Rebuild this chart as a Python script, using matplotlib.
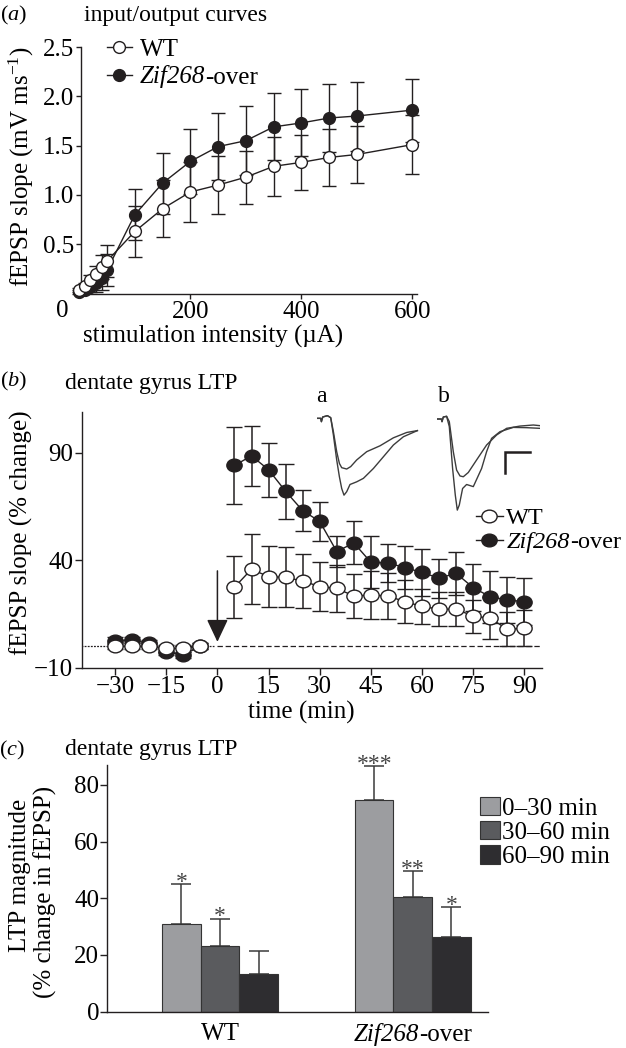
import numpy as np
import matplotlib
matplotlib.use('Agg')
import matplotlib.pyplot as plt
from matplotlib.lines import Line2D
from matplotlib.path import Path
from matplotlib.transforms import Affine2D
from matplotlib.offsetbox import TextArea, HPacker, AnnotationBbox

plt.rcParams['font.family'] = 'Liberation Serif'
plt.rcParams['mathtext.fontset'] = 'custom'
plt.rcParams['mathtext.rm'] = 'Liberation Serif'
plt.rcParams['mathtext.it'] = 'Liberation Serif:italic'
plt.rcParams['axes.unicode_minus'] = True

INK = '#231f20'
GENE = 'Zif268'
SUFFIX = '-over'

# ---- (a) input/output curves ----
io_x = [0, 10, 20, 30, 40, 50, 100, 150, 200, 250, 300, 350, 400, 450, 500, 600]
io_wt = [0.04, 0.08, 0.14, 0.20, 0.27, 0.33, 0.63, 0.86, 1.03, 1.10, 1.18, 1.29, 1.33, 1.38, 1.41, 1.51]
io_wt_err = [0.02, 0.03, 0.05, 0.08, 0.12, 0.16, 0.26, 0.29, 0.30, 0.29, 0.27, 0.30, 0.28, 0.29, 0.29, 0.30]
io_zif = [0.02, 0.04, 0.07, 0.11, 0.16, 0.24, 0.80, 1.12, 1.34, 1.49, 1.55, 1.69, 1.73, 1.78, 1.80, 1.86]
io_zif_err = [0.02, 0.03, 0.05, 0.09, 0.12, 0.16, 0.26, 0.31, 0.33, 0.34, 0.35, 0.34, 0.34, 0.34, 0.35, 0.32]

# ---- (b) LTP time course ----
t_base = [-30, -25, -20, -15, -10, -5]
t_post = [5, 10, 15, 20, 25, 30, 35, 40, 45, 50, 55, 60, 65, 70, 75, 80, 85, 90]
wt_base = [0, 0, 0, -1, -1, 0]
wt_base_err = [1.5, 1.5, 1.5, 1.5, 1.5, 1.5]
zif_base = [2.6, 2.9, 1.3, -2.6, -4.1, 0]
zif_base_err = [1.5, 1.5, 1.5, 1.5, 1.5, 1.5]
wt_post = [27.4, 35.8, 32.3, 32.0, 30.3, 27.7, 26.9, 23.3, 23.8, 23.3, 20.7, 18.5, 17.2, 17.2, 14.0, 13.0, 7.9, 8.3]
wt_post_err = [14.5, 16.3, 14.3, 14, 12.6, 11.3, 11, 10.3, 11, 10.5, 10, 8, 8, 8, 7.7, 9.8, 8, 8.3]
zif_post = [84, 88.5, 82, 72, 63, 58, 44, 48, 39, 38.7, 36.5, 34.3, 31.6, 33.9, 27.2, 23, 21.5, 20.7]
zif_post_err = [18, 14, 12.5, 12.7, 9.5, 9, 7.3, 10, 12, 9, 10, 11, 9, 10, 11, 12, 10.5, 11]

# example fEPSP sweeps (ms, mV), before (1) and after (2) LTP
trace_a1_t = [0, 0.4, 0.47, 0.6, 1.07, 1.4, 1.67, 2.0, 2.27, 2.5, 3.0, 3.4, 4.0, 5.0, 6.33, 7.67, 9.0, 10.07]
trace_a1_v = [0, 0, -0.125, 0.05, 0.1, 0.025, -0.5, -1.25, -1.69, -1.85, -1.9, -1.81, -1.56, -1.25, -1.03, -0.73, -0.53, -0.46]
trace_a2_t = [0, 0.4, 0.47, 0.6, 1.07, 1.4, 1.67, 2.0, 2.27, 2.5, 2.73, 3.0, 3.33, 4.0, 4.67, 5.67, 6.67, 7.67, 8.67, 10.07]
trace_a2_v = [0, 0, -0.125, 0.05, 0.1, 0.025, -0.625, -1.56, -2.19, -2.63, -2.88, -2.75, -2.48, -2.38, -2.25, -1.88, -1.44, -1.0, -0.69, -0.46]
trace_b1_t = [0, 0.4, 0.47, 0.6, 0.93, 1.2, 1.6, 1.93, 2.27, 2.6, 3.1, 3.93, 4.93, 5.93, 6.93, 8.27, 9.6, 10.27]
trace_b1_v = [-0.025, -0.025, -0.125, 0.05, 0.075, -0.125, -1.25, -1.94, -2.16, -2.19, -2.03, -1.56, -1.0, -0.625, -0.375, -0.29, -0.25, -0.275]
trace_b2_t = [0, 0.4, 0.47, 0.6, 0.93, 1.2, 1.53, 1.8, 2.0, 2.2, 2.53, 2.93, 3.6, 4.43, 4.93, 5.43, 6.27, 7.6, 8.93, 10.27]
trace_b2_v = [-0.025, -0.025, -0.125, 0.05, 0.075, -0.31, -1.88, -2.88, -3.44, -3.25, -2.63, -2.48, -2.56, -1.88, -1.25, -0.75, -0.5, -0.34, -0.35, -0.375]

# ---- (c) LTP magnitude ----
periods = ['0\u201330 min', '30\u201360 min', '60\u201390 min']
genotypes = ['WT', GENE + SUFFIX]
wt_ltp = [31, 23, 13.3]
wt_ltp_err = [14, 9.8, 8.2]
zif_ltp = [74.7, 40.4, 26.5]
zif_ltp_err = [12, 9.3, 10.3]
wt_stars = ['*', '*', '']
zif_stars = ['***', '**', '*']
bar_colors = ['#9c9da0', '#5a5b5e', '#2e2d30']

W, H = 626, 1048
def fx(px):
    return px / W
def fy(py):
    return 1 - py / H
def box(x0, y0, x1, y1):
    return [fx(x0), fy(y1), fx(x1) - fx(x0), fy(y0) - fy(y1)]

fig = plt.figure(figsize=(6.26, 10.48), dpi=100)

TICK = 18

def style(ax):
    for s in ['top', 'right']:
        ax.spines[s].set_visible(False)
    for s in ['left', 'bottom']:
        ax.spines[s].set_color(INK)
        ax.spines[s].set_linewidth(1)
    ax.tick_params(direction='out', length=3.5, width=1, color=INK,
                   labelsize=TICK, pad=1.5)

# ================= (a) =================
ax1 = fig.add_axes(box(81, 47, 416.7, 293.5))
style(ax1)
ax1.errorbar(io_x, io_zif, yerr=io_zif_err, fmt='-o', color=INK, ms=8.5, mfc=INK, mec=INK,
             lw=1, elinewidth=1, capsize=4.7, capthick=1, clip_on=False, zorder=2)
ax1.errorbar(io_x, io_wt, yerr=io_wt_err, fmt='-o', color=INK, ms=8.5, mfc='white', mec=INK,
             mew=1, lw=1, elinewidth=1, capsize=4.7, capthick=1, clip_on=False, zorder=3)
ax1.set_xlim(2.9, 607.7)
ax1.set_ylim(0, 2.5)
ax1.set_xticks([200, 400, 600])
ax1.set_yticks([0.5, 1.0, 1.5, 2.0, 2.5])
ax1.set_yticklabels(['0.5', '1.0', '1.5', '2.0', '2.5'])
ax1.tick_params(axis='x', pad=2)
ax1.text(fx(62), fy(300), '0', transform=fig.transFigure, ha='center', va='top', fontsize=TICK)
h_wt = Line2D([], [], color=INK, lw=1, marker='o', ms=8.5, mfc='white', mec=INK)
h_zif = Line2D([], [], color=INK, lw=1, marker='o', ms=8.5, mfc=INK, mec=INK)
leg1 = ax1.legend([h_wt, h_zif], ['WT', GENE], loc='upper left',
                  bbox_to_anchor=((107 - 81) / 335.7, (293.5 - 38) / 246.5), frameon=False,
                  fontsize=TICK, handlelength=1.0, handletextpad=0.3, borderpad=0,
                  borderaxespad=0, labelspacing=0.2)
leg1.get_texts()[1].set_fontstyle('italic')

fig.text(fx(14), fy(15), '($\\mathit{a}$)', fontsize=16, ha='center', va='center')
fig.text(fx(176), fy(15), 'input/output curves', fontsize=17, ha='center', va='center')
fig.text(fx(21.7), fy(166.5), 'fEPSP slope (mV ms$^{-1}$)', fontsize=TICK, rotation=90,
         ha='center', va='center')
fig.text(fx(213), fy(336), 'stimulation intensity (\u00b5A)', fontsize=TICK,
         ha='center', va='center')

# ================= (b) =================
ax2 = fig.add_axes(box(81.7, 411.7, 541.7, 667.7))
style(ax2)
ell = Path.unit_circle().transformed(Affine2D().scale(1.2, 1.0))
kw = dict(fmt='-', marker=ell, color=INK, ms=11, mec=INK, mew=1, lw=1,
          elinewidth=1.1, capsize=5.5, capthick=1.1)
ax2.hlines(0, -40, -1, colors=INK, lw=0.9, linestyles=(0, (1.5, 1)), zorder=1)
ax2.hlines(0, 0, 95, colors=INK, lw=0.9, linestyles=(0, (4.3, 2.2)), zorder=1)
ax2.errorbar(t_base, zif_base, yerr=zif_base_err, mfc=INK, zorder=2, **kw)
ax2.errorbar(t_post, zif_post, yerr=zif_post_err, mfc=INK, zorder=2, **kw)
ax2.errorbar(t_base, wt_base, yerr=wt_base_err, mfc='white', zorder=3, **kw)
ax2.errorbar(t_post, wt_post, yerr=wt_post_err, mfc='white', zorder=3, **kw)
ax2.annotate('', xy=(0, 2), xytext=(0, 35),
             arrowprops=dict(arrowstyle='-|>,head_width=0.33,head_length=0.7',
                             mutation_scale=20, lw=1.1, color=INK, fc=INK,
                             shrinkA=0, shrinkB=0))
ax2.set_xlim(-39.8, 95.1)
ax2.set_ylim(-10, 109)
ax2.set_xticks([-30, -15, 0, 15, 30, 45, 60, 75, 90])
ax2.set_yticks([-10, 40, 90])
ax2.tick_params(length=5, pad=1)
hb_wt = Line2D([], [], color=INK, lw=1, marker=ell, ms=11, mfc='white', mec=INK)
hb_zif = Line2D([], [], color=INK, lw=1, marker=ell, ms=11, mfc=INK, mec=INK)
leg2 = ax2.legend([hb_wt, hb_zif], ['WT', GENE], loc='upper left',
                  bbox_to_anchor=((476 - 81.7) / 460, (667.7 - 507) / 256), frameon=False,
                  fontsize=17.5, handlelength=1.1, handletextpad=0.15, borderpad=0,
                  borderaxespad=0, labelspacing=0.1)
leg2.get_texts()[1].set_fontstyle('italic')

fig.text(fx(14), fy(381), '($\\mathit{b}$)', fontsize=16, ha='center', va='center')
fig.text(fx(151.5), fy(383), 'dentate gyrus LTP', fontsize=17, ha='center', va='center')
fig.text(fx(21.7), fy(533), 'fEPSP slope (% change)', fontsize=TICK, rotation=90,
         ha='center', va='center')
fig.text(fx(301), fy(712), 'time (min)', fontsize=TICK, ha='center', va='center')

# example traces
for (x0, x1), tr in [((316.7, 419.4), [(trace_a1_t, trace_a1_v), (trace_a2_t, trace_a2_v)]),
                     ((437.3, 540.0), [(trace_b1_t, trace_b1_v), (trace_b2_t, trace_b2_v)])]:
    axi = fig.add_axes(box(x0, 415, x1, 511.7))
    axi.set_axis_off()
    for t, v in tr:
        axi.plot(t, v, color='#3c3c3c', lw=1)
    axi.set_xlim(0, 10.27)
    axi.set_ylim(-3.5, 0.125)
    last = axi
last.plot([6.77, 6.77, 9.27], [-2.06, -1.25, -1.25], color=INK, lw=1.8, solid_joinstyle='miter')
fig.text(fx(321), fy(397), 'a', fontsize=17, ha='center', va='center')
fig.text(fx(444), fy(397), 'b', fontsize=17, ha='center', va='center')

# ================= (c) =================
ax3 = fig.add_axes(box(106.7, 765, 488.3, 1011.7))
style(ax3)
grp = np.arange(len(genotypes))
width = 0.2
for i, lab in enumerate(periods):
    xs = grp + (i - 1) * width
    vals = [wt_ltp[i], zif_ltp[i]]
    errs = [wt_ltp_err[i], zif_ltp_err[i]]
    ax3.bar(xs, vals, width=width, color=bar_colors[i], edgecolor='#333333', lw=0.8,
            label=lab, zorder=2)
    ax3.errorbar(xs, vals, yerr=[[0, 0], errs], fmt='none', ecolor='#3a3a3a',
                 elinewidth=1.1, capsize=7, capthick=1.1, zorder=1)
    for x, v, e, s in zip(xs, vals, errs, [wt_stars[i], zif_stars[i]]):
        if s:
            ax3.text(x, v + e + 0.6, s, ha='center', va='center', fontsize=17, color='#444444')
ax3.set_xlim(-0.588, 1.392)
ax3.set_ylim(0, 87)
ax3.set_yticks([0, 20, 40, 60, 80])
ax3.set_xticks(grp)
ax3.set_xticklabels([genotypes[0], ''])
ax3.tick_params(axis='x', length=0, pad=8)
ax3.tick_params(axis='y', length=5, pad=0.5)
gene_box = HPacker(children=[TextArea(GENE, textprops=dict(size=TICK, style='italic')),
                             TextArea(SUFFIX, textprops=dict(size=TICK))],
                   pad=0, sep=0, align='baseline')
ax3.add_artist(AnnotationBbox(gene_box, (grp[1], 0), xycoords=('data', 'axes fraction'),
                              xybox=(0, -8), boxcoords='offset points',
                              box_alignment=(0.5, 1), frameon=False, pad=0,
                              annotation_clip=False))
ax3.legend(loc='upper left', bbox_to_anchor=((480 - 106.7) / 381.6, (1011.7 - 797) / 246.7),
           frameon=False, fontsize=TICK, handlelength=0.8, handleheight=0.75,
           handletextpad=0.1, borderpad=0, borderaxespad=0, labelspacing=0.05)

fig.text(fx(12), fy(750), '($\\mathit{c}$)', fontsize=16, ha='center', va='center')
fig.text(fx(151.5), fy(750), 'dentate gyrus LTP', fontsize=17, ha='center', va='center')
fig.text(fx(20), fy(875), 'LTP magnitude', fontsize=TICK, rotation=90, ha='center', va='center')
fig.text(fx(45), fy(892), '(% change in fEPSP)', fontsize=TICK, rotation=90,
         ha='center', va='center')

# upright suffix after the italic gene name in the legends
fig.canvas.draw()
renderer = fig.canvas.get_renderer()
for leg, size in [(leg1, TICK), (leg2, 17.5)]:
    bb = leg.get_texts()[1].get_window_extent(renderer)
    fig.text(bb.x1 / fig.bbox.width, bb.y0 / fig.bbox.height, SUFFIX,
             ha='left', va='bottom', fontsize=size)

fig.savefig('out.png', dpi=100)
